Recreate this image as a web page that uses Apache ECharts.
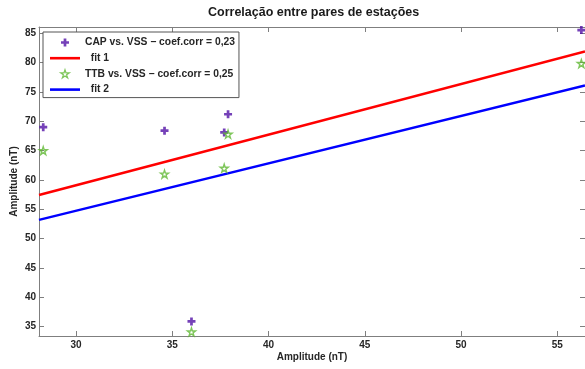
<!DOCTYPE html>
<html>
<head>
<meta charset="utf-8">
<script src="https://cdn.jsdelivr.net/npm/echarts@6/dist/echarts.min.js"></script>
<style>
  html, body { margin: 0; padding: 0; background: #fff; }
  #chart { width: 585px; height: 369px; }
</style>
</head>
<body>
<div id="chart"></div>
<script>
// Amplitudes (nT) at VSS and the paired stations
const vss = [28.3, 34.6, 36.0, 37.7, 37.9, 56.25];
const cap = [69.0, 68.4, 35.9, 68.1, 71.2, 85.55];
const ttb = [65.0, 61.0, 34.1, 62.0, 67.8, 79.85];

// Straight-line fits, given by their end points [x, y]
const fit1 = [[28.08, 57.45], [56.44, 81.9]];
const fit2 = [[28.08, 53.2], [56.44, 76.1]];

// Axis ticks
const xTicks = [30, 35, 40, 45, 50, 55];
const yTicks = [35, 40, 45, 50, 55, 60, 65, 70, 75, 80, 85];

const xRange = [28.08, 56.44];
const yRange = [33.41, 86.07];

const FONT = '"Liberation Sans", Arial, Helvetica, sans-serif';
const AXIS_GRAY = '#7f7f7f';
const TEXT_DARK = '#262626';
const PURPLE = '#5212a6';
const GREEN = '#5fb832';

const plusPath = 'path://M3.3,0H6.7V3.3H10V6.7H6.7V10H3.3V6.7H0V3.3H3.3Z';
const starPath = 'path://M10,0L12.245,6.91L19.511,6.91L13.633,11.18L15.878,18.09L10,13.82L4.122,18.09L6.367,11.18L0.489,6.91L7.755,6.91Z';
const barPath = 'path://M0,0H30V2.6H0Z';

const pairs = (xs, ys) => xs.map((x, i) => [x, ys[i]]);

function valueAxis(range, ticks, pos, showLabels, extra) {
  return Object.assign({
    type: 'value',
    position: pos,
    min: range[0],
    max: range[1],
    scale: true,
    splitLine: { show: false },
    axisLine: { show: true, onZero: false, lineStyle: { color: AXIS_GRAY, width: 1 } },
    axisTick: { show: true, inside: true, length: 5, customValues: ticks,
                lineStyle: { color: AXIS_GRAY, width: 1 } },
    axisLabel: { show: showLabels, customValues: ticks, fontFamily: FONT,
                 fontWeight: 'bold', fontSize: 10, color: TEXT_DARK }
  }, extra || {});
}

const xName = {
  name: 'Amplitude (nT)', nameLocation: 'middle', nameGap: 16, nameMoveOverlap: false,
  nameTextStyle: { fontFamily: FONT, fontWeight: 'bold', fontSize: 10, color: TEXT_DARK }
};
const yName = {
  name: 'Amplitude (nT)', nameLocation: 'middle', nameGap: 20, nameMoveOverlap: false,
  nameTextStyle: { fontFamily: FONT, fontWeight: 'bold', fontSize: 10, color: TEXT_DARK }
};

const xBottom = valueAxis(xRange, xTicks, 'bottom', true, xName);
xBottom.axisLabel.margin = 4;
const yLeft = valueAxis(yRange, yTicks, 'left', true, yName);
yLeft.axisLabel.margin = 3;

const capName = 'CAP vs. VSS − coef.corr = 0,23';
const ttbName = 'TTB vs. VSS − coef.corr = 0,25';

const chart = echarts.init(document.getElementById('chart'), null, { renderer: 'canvas' });

chart.setOption({
  backgroundColor: '#ffffff',
  animation: false,
  title: {
    text: 'Correlação entre pares de estações',
    left: 208, top: 6,
    padding: 0,
    textStyle: { fontFamily: FONT, fontWeight: 'bold', fontSize: 12.5, color: '#1a1a1a' }
  },
  grid: { left: 39, top: 27, right: 0, bottom: 33, containLabel: false, outerBoundsMode: 'none' },
  xAxis: [
    xBottom,
    valueAxis(xRange, xTicks, 'top', false)
  ],
  yAxis: [
    yLeft,
    valueAxis(yRange, yTicks, 'right', false)
  ],
  legend: {
    orient: 'vertical',
    left: 43, top: 32,
    padding: [4.5, 4, 2, 7],
    itemWidth: 30, itemHeight: 8,
    itemGap: 3.7,
    backgroundColor: '#ffffff',
    borderColor: '#555555', borderWidth: 1,
    formatter: name => name.indexOf('fit') === 0 ? '  ' + name : name,
    textStyle: { fontFamily: FONT, fontWeight: 'bold', fontSize: 10.3, lineHeight: 12, color: TEXT_DARK },
    data: [
      { name: capName, icon: plusPath, itemStyle: { color: PURPLE } },
      { name: 'fit 1', icon: barPath, itemStyle: { color: '#ff0000' } },
      { name: ttbName, icon: starPath,
        itemStyle: { color: 'rgba(255,255,255,0)', borderColor: GREEN, borderWidth: 1.3 } },
      { name: 'fit 2', icon: barPath, itemStyle: { color: '#0000ff' } }
    ]
  },
  series: [
    {
      name: capName,
      type: 'scatter',
      data: pairs(vss, cap),
      symbol: plusPath,
      symbolSize: 8,
      itemStyle: { color: PURPLE },
      z: 3
    },
    {
      name: 'fit 1',
      type: 'line',
      data: fit1,
      showSymbol: false,
      symbol: 'none',
      lineStyle: { color: '#ff0000', width: 2.5 },
      itemStyle: { color: '#ff0000' },
      z: 2
    },
    {
      name: ttbName,
      type: 'scatter',
      data: pairs(vss, ttb),
      symbol: starPath,
      symbolSize: 8,
      itemStyle: { color: 'rgba(255,255,255,0)', borderColor: GREEN, borderWidth: 1.4 },
      z: 4
    },
    {
      name: 'fit 2',
      type: 'line',
      data: fit2,
      showSymbol: false,
      symbol: 'none',
      lineStyle: { color: '#0000ff', width: 2.5 },
      itemStyle: { color: '#0000ff' },
      z: 2
    }
  ]
});
</script>
</body>
</html>
